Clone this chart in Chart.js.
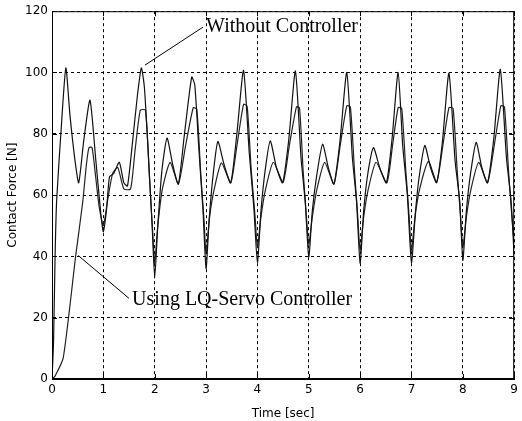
<!DOCTYPE html>
<html>
<head>
<meta charset="utf-8">
<script src="https://cdn.jsdelivr.net/npm/chart.js@4/dist/chart.umd.min.js"></script>
<style>
html,body{margin:0;padding:0;background:#fff;}
#wrap{width:522px;height:421px;}
</style>
</head>
<body>
<div id="wrap"><canvas id="c" width="522" height="421"></canvas></div>
<script>
// Time samples (sec) and contact force (N) - Without Controller
const tWithout = [0.00,0.03,0.06,0.09,0.18,0.27,0.35,0.45,0.52,0.62,0.74,0.85,0.95,1.00,1.06,1.12,1.20,1.31,1.40,1.47,1.56,1.66,1.74,1.80,1.88,1.95,2.00,2.06,2.14,2.24,2.35,2.46,2.58,2.72,2.78,2.86,2.94,3.00,3.06,3.14,3.23,3.35,3.48,3.60,3.73,3.84,3.93,4.00,4.07,4.15,4.25,4.37,4.49,4.61,4.74,4.85,4.93,5.00,5.07,5.16,5.27,5.38,5.49,5.61,5.74,5.85,5.93,6.00,6.07,6.15,6.26,6.38,6.51,6.62,6.74,6.83,6.92,7.00,7.08,7.15,7.26,7.37,7.49,7.60,7.73,7.85,7.94,8.00,8.07,8.15,8.26,8.37,8.48,8.60,8.73,8.85,8.94,9.00];
const vWithout = [0,12,40,58,82,101.5,86,71,64,78,91,72,54,48,55,66,67,70.7,64,63,76,92,101.5,95,72,50,33,50,68,78.6,70,63.6,80,98.5,96,75,55,36,52,67,77.5,70,64,80,100.7,74,56,38,55,68,77.7,69,64,78,100.5,72,58,39.8,55,67,76.6,69,63.6,78,100,72,58,37.7,55,67,75.5,69,64,78,100,76,60,38,55,66,76.2,69,64,77,99.8,71,58,38.7,55,67,77.2,69,64,78,101,72,58,40];

// Using LQ-Servo Controller
const tServo = [0.00,0.06,0.22,0.46,0.60,0.67,0.72,0.78,0.85,0.92,1.00,1.08,1.18,1.28,1.40,1.53,1.62,1.72,1.82,1.90,1.96,2.00,2.06,2.15,2.30,2.46,2.60,2.75,2.82,2.90,2.96,3.00,3.07,3.16,3.30,3.48,3.60,3.73,3.80,3.88,3.95,4.00,4.07,4.16,4.31,4.50,4.62,4.76,4.82,4.89,4.95,5.00,5.07,5.16,5.31,5.49,5.61,5.74,5.81,5.89,5.95,6.00,6.07,6.16,6.31,6.52,6.63,6.74,6.81,6.89,6.95,7.00,7.07,7.16,7.33,7.49,7.61,7.73,7.81,7.89,7.95,8.00,8.07,8.16,8.31,8.48,8.61,8.74,8.81,8.89,8.95,9.00];
const vServo = [0,1,7,40,58,70,75.5,75.5,66,56,50,58,67,69,62,62,75,87.7,87.7,65,48,38,50,62,70.7,63.6,76,88.5,88,66,52,41,53,62,70.5,64,76,89.6,89,68,54,43,53,62,70.7,64.2,76,88.8,88.5,68,54,44,53,62,70.7,63.6,76,89.1,88.8,68,54,42,53,62,70.7,64,76,88.5,88.3,68,54,42,53,62,71,64.2,76,88.5,88.3,68,54,43,53,62,70.7,64,76,89.1,88.8,68,54,44];

const yTicks = [0,20,40,60,80,100,120];
const xTicks = [0,1,2,3,4,5,6,7,8,9];

const labelWithout = "Without Controller";
const labelServo = "Using LQ-Servo Controller";

const toXY = (ts, vs) => ts.map((t, i) => ({x: t, y: vs[i]}));
const sans = '"DejaVu Sans", Verdana, sans-serif';

const frame = {
  id: 'frame',
  afterDatasetsDraw(chart) {
    const {ctx, chartArea: a, scales: {x, y}} = chart;
    ctx.save();
    ctx.strokeStyle = '#000';
    ctx.lineWidth = 1;
    ctx.setLineDash([]);
    ctx.strokeRect(a.left + 0.5, a.top + 0.5, a.right - a.left - 1, a.bottom - a.top - 1);
    ctx.beginPath();
    xTicks.forEach(v => {
      const px = Math.round(x.getPixelForValue(v)) + 0.5;
      ctx.moveTo(px, a.bottom); ctx.lineTo(px, a.bottom - 5);
      ctx.moveTo(px, a.top); ctx.lineTo(px, a.top + 5);
    });
    yTicks.forEach(v => {
      const py = Math.round(y.getPixelForValue(v)) + 0.5;
      ctx.moveTo(a.left, py); ctx.lineTo(a.left + 5, py);
      ctx.moveTo(a.right, py); ctx.lineTo(a.right - 5, py);
    });
    ctx.stroke();
    // annotations
    ctx.font = '20px "Liberation Serif", "Times New Roman", serif';
    ctx.fillStyle = '#000';
    ctx.textBaseline = 'middle';
    ctx.textAlign = 'left';
    ctx.beginPath();
    ctx.moveTo(x.getPixelForValue(2.94), y.getPixelForValue(114.8));
    ctx.lineTo(x.getPixelForValue(1.81), y.getPixelForValue(102.4));
    ctx.moveTo(x.getPixelForValue(1.50), y.getPixelForValue(26.3));
    ctx.lineTo(x.getPixelForValue(0.51), y.getPixelForValue(40.3));
    ctx.stroke();
    ctx.fillText(labelWithout, x.getPixelForValue(3.0), y.getPixelForValue(114.8));
    ctx.fillText(labelServo, x.getPixelForValue(1.56), y.getPixelForValue(25.7));
    ctx.restore();
  }
};

new Chart(document.getElementById('c'), {
  type: 'line',
  data: {
    datasets: [
      {label: labelWithout, data: toXY(tWithout, vWithout), borderColor: '#111', borderWidth: 1.2, pointRadius: 0, tension: 0.2, fill: false},
      {label: labelServo, data: toXY(tServo, vServo), borderColor: '#222', borderWidth: 1.2, pointRadius: 0, tension: 0.2, fill: false}
    ]
  },
  options: {
    responsive: false,
    animation: false,
    devicePixelRatio: 1,
    layout: {padding: {left: 0, right: 2, top: 10, bottom: 0}},
    plugins: {legend: {display: false}, tooltip: {enabled: false}},
    scales: {
      x: {
        type: 'linear', min: 0, max: 9,
        afterBuildTicks: s => { s.ticks = xTicks.map(v => ({value: v})); },
        afterFit: s => { s.height = 42; },
        grid: {color: '#000', lineWidth: 1, drawTicks: false},
        border: {display: true, color: '#000', dash: [3, 3]},
        ticks: {color: '#000', padding: 4, font: {family: sans, size: 12}},
        title: {display: true, text: 'Time [sec]', color: '#000', padding: {top: 1, bottom: 0}, font: {family: sans, size: 12}}
      },
      y: {
        type: 'linear', min: 0, max: 120,
        afterBuildTicks: s => { s.ticks = yTicks.map(v => ({value: v})); },
        afterFit: s => { s.width = 52; },
        grid: {color: '#000', lineWidth: 1, drawTicks: false},
        border: {display: true, color: '#000', dash: [3, 3]},
        ticks: {color: '#000', padding: 4, font: {family: sans, size: 12}},
        title: {display: true, text: 'Contact Force [N]', color: '#000', padding: {top: 6, bottom: 0}, font: {family: sans, size: 12}}
      }
    }
  },
  plugins: [frame]
});
</script>
</body>
</html>
